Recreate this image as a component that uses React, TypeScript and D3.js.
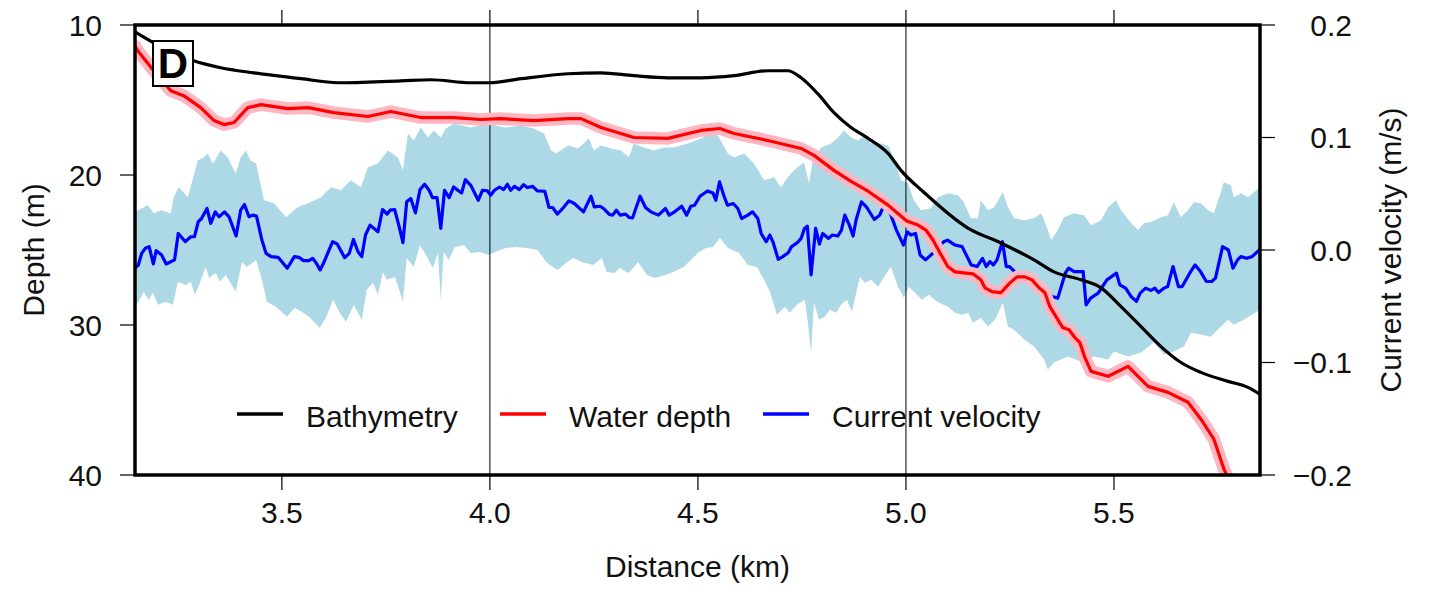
import React from "react";
import * as d3 from "d3";

// ---------- DATA ----------
const bathyDist = [3.147, 3.192, 3.288, 3.353, 3.433, 3.546, 3.635, 3.786, 3.858, 3.954, 4.0, 4.075, 4.188, 4.267, 4.346, 4.428, 4.507, 4.587, 4.668, 4.716, 4.748, 4.788, 4.827, 4.868, 4.909, 4.957, 4.988, 5.043, 5.149, 5.228, 5.308, 5.356, 5.421, 5.469, 5.517, 5.565, 5.613, 5.661, 5.709, 5.774, 5.822, 5.851];
const bathyDepth = [10.46, 11.19, 12.39, 12.85, 13.19, 13.58, 13.85, 13.72, 13.65, 13.85, 13.85, 13.58, 13.25, 13.19, 13.38, 13.52, 13.52, 13.38, 13.05, 13.05, 13.52, 14.58, 15.84, 16.83, 17.56, 18.56, 19.69, 21.15, 23.54, 24.53, 25.66, 26.46, 26.99, 27.52, 28.78, 30.11, 31.44, 32.5, 33.16, 33.76, 34.16, 34.62];

const waterDist = [3.147, 3.154, 3.192, 3.233, 3.264, 3.305, 3.337, 3.361, 3.385, 3.418, 3.45, 3.514, 3.563, 3.625, 3.707, 3.762, 3.834, 3.913, 3.978, 4.026, 4.106, 4.188, 4.219, 4.267, 4.346, 4.428, 4.507, 4.553, 4.587, 4.668, 4.748, 4.779, 4.827, 4.868, 4.909, 4.957, 5.002, 5.029, 5.048, 5.065, 5.082, 5.101, 5.118, 5.139, 5.161, 5.18, 5.19, 5.207, 5.228, 5.25, 5.267, 5.286, 5.303, 5.32, 5.334, 5.346, 5.365, 5.377, 5.392, 5.404, 5.418, 5.43, 5.445, 5.486, 5.534, 5.582, 5.63, 5.678, 5.709, 5.74, 5.764, 5.786];
const waterDepth = [11.4, 11.73, 13.05, 14.38, 14.71, 15.51, 16.37, 16.64, 16.5, 15.51, 15.31, 15.57, 15.51, 15.84, 16.1, 15.77, 16.17, 16.17, 16.3, 16.24, 16.37, 16.24, 16.24, 16.83, 17.5, 17.56, 17.03, 16.9, 17.23, 17.7, 18.23, 18.69, 19.69, 20.42, 21.08, 22.01, 23.07, 23.34, 23.67, 24.33, 25.2, 26.12, 26.46, 26.52, 26.59, 26.99, 27.52, 27.78, 27.85, 27.19, 26.79, 26.79, 26.99, 27.52, 27.85, 28.78, 29.64, 30.17, 30.31, 30.77, 31.17, 32.16, 33.09, 33.42, 32.76, 34.09, 34.49, 35.15, 36.28, 37.6, 39.59, 40.92];

const velDist = [3.147, 3.155, 3.163, 3.172, 3.181, 3.191, 3.198, 3.211, 3.222, 3.242, 3.251, 3.268, 3.281, 3.29, 3.299, 3.307, 3.32, 3.329, 3.34, 3.349, 3.362, 3.373, 3.39, 3.401, 3.41, 3.421, 3.43, 3.439, 3.452, 3.462, 3.474, 3.491, 3.513, 3.53, 3.541, 3.552, 3.565, 3.574, 3.583, 3.592, 3.6, 3.622, 3.633, 3.651, 3.662, 3.672, 3.683, 3.692, 3.701, 3.712, 3.731, 3.742, 3.753, 3.76, 3.771, 3.781, 3.791, 3.8, 3.81, 3.821, 3.832, 3.843, 3.854, 3.862, 3.873, 3.882, 3.891, 3.902, 3.913, 3.926, 3.932, 3.941, 3.954, 3.972, 3.982, 3.994, 4.002, 4.011, 4.023, 4.033, 4.042, 4.05, 4.059, 4.071, 4.081, 4.09, 4.103, 4.114, 4.132, 4.142, 4.151, 4.162, 4.177, 4.19, 4.203, 4.225, 4.243, 4.251, 4.265, 4.273, 4.287, 4.295, 4.304, 4.313, 4.326, 4.335, 4.343, 4.361, 4.374, 4.387, 4.405, 4.422, 4.431, 4.444, 4.461, 4.473, 4.483, 4.492, 4.505, 4.523, 4.536, 4.543, 4.552, 4.562, 4.571, 4.585, 4.596, 4.605, 4.62, 4.631, 4.644, 4.652, 4.664, 4.673, 4.681, 4.693, 4.704, 4.717, 4.725, 4.739, 4.748, 4.756, 4.763, 4.772, 4.783, 4.792, 4.8, 4.814, 4.823, 4.836, 4.845, 4.853, 4.864, 4.873, 4.88, 4.893, 4.906, 4.924, 4.937, 4.942, 4.95, 4.964, 4.977, 4.994, 5.003, 5.012, 5.023, 5.034, 5.047, 5.069, 5.091, 5.1, 5.118, 5.135, 5.157, 5.171, 5.184, 5.193, 5.202, 5.21, 5.219, 5.232, 5.241, 5.249, 5.257, 5.276, 5.305, 5.329, 5.351, 5.365, 5.383, 5.391, 5.404, 5.426, 5.433, 5.444, 5.462, 5.483, 5.506, 5.514, 5.528, 5.541, 5.554, 5.563, 5.576, 5.589, 5.598, 5.607, 5.62, 5.629, 5.642, 5.655, 5.664, 5.682, 5.695, 5.708, 5.722, 5.735, 5.744, 5.761, 5.775, 5.786, 5.797, 5.805, 5.819, 5.832, 5.845, 5.851];
const velValue = [-0.016, -0.0133, -0.003, 0.0015, 0.003, -0.0124, -0.0006, -0.0044, -0.0124, -0.0088, 0.0147, 0.0074, 0.0118, 0.0118, 0.0251, 0.028, 0.0369, 0.0236, 0.0339, 0.0295, 0.0339, 0.0295, 0.0124, 0.0354, 0.0404, 0.0295, 0.031, 0.0301, 0.0088, -0.003, -0.0059, -0.0065, -0.0162, -0.0059, -0.0065, -0.0094, -0.0094, -0.0074, -0.0118, -0.0177, -0.0118, 0.0074, 0.0053, -0.0068, -0.003, 0.0094, -0.0015, -0.0059, 0.0133, 0.0221, 0.0162, 0.036, 0.0319, 0.0354, 0.036, 0.0221, 0.0065, 0.0428, 0.0457, 0.033, 0.0537, 0.0584, 0.0531, 0.0466, 0.0466, 0.0192, 0.0531, 0.0466, 0.056, 0.0522, 0.0507, 0.0625, 0.0575, 0.0442, 0.0531, 0.0525, 0.0487, 0.0531, 0.056, 0.0537, 0.0584, 0.0531, 0.0566, 0.0537, 0.0581, 0.0555, 0.0566, 0.0525, 0.0522, 0.0378, 0.0378, 0.0319, 0.0378, 0.0437, 0.0413, 0.0339, 0.0478, 0.0383, 0.0389, 0.0369, 0.0316, 0.031, 0.0354, 0.031, 0.0319, 0.0289, 0.0286, 0.0478, 0.0378, 0.0339, 0.031, 0.0369, 0.031, 0.0339, 0.0389, 0.031, 0.0389, 0.0398, 0.0478, 0.0525, 0.0507, 0.0442, 0.0605, 0.0487, 0.0398, 0.0413, 0.0369, 0.028, 0.031, 0.0339, 0.028, 0.0147, 0.0074, 0.0133, 0.0065, -0.0083, -0.0059, -0.0024, 0.003, 0.0065, 0.0103, 0.0192, 0.0212, -0.0221, 0.0192, 0.0053, 0.0147, 0.0103, 0.0133, 0.0124, 0.0177, 0.031, 0.0221, 0.0124, 0.0265, 0.0428, 0.0378, 0.0271, 0.031, 0.0354, 0.041, 0.031, 0.0177, 0.0044, 0.0162, 0.0133, 0.0147, -0.0044, -0.0088, -0.0015, 0.0074, 0.0088, 0.0044, 0.003, -0.0133, -0.0147, -0.0074, -0.0147, -0.0103, -0.0133, -0.0088, 0.0074, -0.0147, -0.0147, -0.0177, -0.0248, -0.0274, -0.0354, -0.0413, -0.0428, -0.0206, -0.0162, -0.0192, -0.0192, -0.0487, -0.0428, -0.0383, -0.0265, -0.0206, -0.031, -0.0339, -0.0413, -0.0457, -0.0383, -0.0339, -0.036, -0.0339, -0.0378, -0.0339, -0.0325, -0.0147, -0.0325, -0.0325, -0.0206, -0.0133, -0.0192, -0.028, -0.028, -0.025, 0.003, 0, -0.0162, -0.0088, -0.0059, -0.0074, -0.0059, -0.0015, 0.0006];

const bandUpperDist = [3.147, 3.154, 3.178, 3.192, 3.209, 3.233, 3.24, 3.252, 3.274, 3.298, 3.312, 3.322, 3.334, 3.353, 3.37, 3.389, 3.401, 3.413, 3.425, 3.438, 3.457, 3.481, 3.51, 3.538, 3.563, 3.594, 3.618, 3.642, 3.666, 3.69, 3.707, 3.731, 3.755, 3.779, 3.791, 3.803, 3.817, 3.834, 3.851, 3.865, 3.882, 3.894, 3.913, 3.954, 3.995, 4.034, 4.075, 4.106, 4.13, 4.147, 4.159, 4.188, 4.212, 4.238, 4.25, 4.267, 4.291, 4.315, 4.334, 4.346, 4.37, 4.394, 4.418, 4.442, 4.476, 4.507, 4.531, 4.548, 4.572, 4.587, 4.611, 4.635, 4.659, 4.683, 4.7, 4.716, 4.731, 4.755, 4.767, 4.776, 4.796, 4.82, 4.837, 4.851, 4.868, 4.885, 4.899, 4.916, 4.94, 4.957, 4.971, 4.988, 5.005, 5.019, 5.036, 5.06, 5.077, 5.101, 5.125, 5.139, 5.156, 5.173, 5.18, 5.197, 5.212, 5.233, 5.245, 5.26, 5.284, 5.308, 5.325, 5.341, 5.349, 5.365, 5.38, 5.404, 5.428, 5.445, 5.469, 5.486, 5.505, 5.517, 5.541, 5.558, 5.572, 5.589, 5.613, 5.63, 5.644, 5.661, 5.678, 5.692, 5.709, 5.726, 5.74, 5.757, 5.764, 5.781, 5.788, 5.805, 5.822, 5.851];
const bandUpperVel = [0.0336, 0.0354, 0.0398, 0.0327, 0.0354, 0.0327, 0.0469, 0.0558, 0.0469, 0.0796, 0.0823, 0.0858, 0.077, 0.0885, 0.0823, 0.0681, 0.0823, 0.0885, 0.0796, 0.077, 0.0442, 0.0416, 0.0292, 0.0381, 0.0416, 0.0469, 0.0558, 0.0531, 0.0619, 0.0558, 0.0735, 0.077, 0.0885, 0.0823, 0.0708, 0.1035, 0.0973, 0.1088, 0.1, 0.1062, 0.1, 0.108, 0.1124, 0.1088, 0.1124, 0.1088, 0.1106, 0.108, 0.1035, 0.0885, 0.0858, 0.0929, 0.0903, 0.0991, 0.0885, 0.0929, 0.0903, 0.0885, 0.0823, 0.0947, 0.0912, 0.0885, 0.0912, 0.0912, 0.0947, 0.0991, 0.1035, 0.1018, 0.0858, 0.0823, 0.0858, 0.077, 0.0619, 0.0646, 0.0558, 0.0646, 0.0708, 0.0779, 0.0593, 0.0796, 0.0912, 0.0947, 0.1, 0.1062, 0.1, 0.0973, 0.1018, 0.0947, 0.0947, 0.0929, 0.0823, 0.0619, 0.0593, 0.0442, 0.0354, 0.0372, 0.0469, 0.0504, 0.0487, 0.0425, 0.0283, 0.0283, 0.0442, 0.0354, 0.0381, 0.0513, 0.0381, 0.0283, 0.0265, 0.0283, 0.0327, 0.0177, 0.0088, 0.0177, 0.0292, 0.0327, 0.031, 0.0221, 0.0265, 0.0381, 0.0442, 0.0354, 0.0239, 0.0177, 0.0239, 0.0248, 0.0292, 0.031, 0.0425, 0.0292, 0.0354, 0.0425, 0.0416, 0.0354, 0.0327, 0.0513, 0.0602, 0.0575, 0.0469, 0.0504, 0.0469, 0.0558];

const bandLowerDist = [3.147, 3.154, 3.168, 3.18, 3.19, 3.202, 3.221, 3.238, 3.25, 3.269, 3.281, 3.291, 3.303, 3.317, 3.325, 3.341, 3.351, 3.365, 3.389, 3.404, 3.416, 3.438, 3.452, 3.464, 3.486, 3.512, 3.531, 3.548, 3.565, 3.591, 3.606, 3.623, 3.639, 3.654, 3.673, 3.692, 3.704, 3.719, 3.731, 3.743, 3.752, 3.772, 3.791, 3.8, 3.817, 3.832, 3.849, 3.863, 3.875, 3.882, 3.889, 3.901, 3.916, 3.938, 3.954, 3.976, 3.998, 4.012, 4.038, 4.062, 4.089, 4.115, 4.135, 4.151, 4.163, 4.183, 4.2, 4.221, 4.248, 4.269, 4.281, 4.3, 4.312, 4.334, 4.356, 4.377, 4.397, 4.423, 4.44, 4.466, 4.483, 4.5, 4.519, 4.536, 4.553, 4.572, 4.599, 4.62, 4.642, 4.659, 4.673, 4.69, 4.709, 4.721, 4.738, 4.757, 4.764, 4.772, 4.779, 4.791, 4.805, 4.817, 4.832, 4.844, 4.858, 4.87, 4.889, 4.901, 4.916, 4.933, 4.947, 4.964, 4.981, 4.995, 5.007, 5.022, 5.038, 5.055, 5.075, 5.101, 5.118, 5.135, 5.149, 5.161, 5.18, 5.197, 5.214, 5.233, 5.245, 5.26, 5.284, 5.308, 5.332, 5.341, 5.356, 5.389, 5.421, 5.452, 5.486, 5.5, 5.534, 5.565, 5.596, 5.62, 5.644, 5.668, 5.685, 5.709, 5.733, 5.757, 5.774, 5.788, 5.812, 5.851];
const bandLowerVel = [-0.0487, -0.0469, -0.0372, -0.0442, -0.0381, -0.0487, -0.046, -0.0487, -0.0283, -0.031, -0.0283, -0.0398, -0.0292, -0.015, -0.0248, -0.0204, -0.0283, -0.0221, -0.0372, -0.0106, -0.015, -0.0088, -0.0265, -0.046, -0.0504, -0.0593, -0.0513, -0.0549, -0.0593, -0.069, -0.0602, -0.0442, -0.0558, -0.0637, -0.0487, -0.0619, -0.0354, -0.0292, -0.0398, -0.0195, -0.0265, -0.0239, -0.046, -0.0071, -0.015, 0.0044, -0.0062, -0.0159, -0.0027, -0.0442, -0.0018, -0.0088, 0.0027, 0.0044, -0.0027, -0.0018, -0.0044, -0.0018, 0.0018, 0.0027, 0.0018, 0, -0.0106, -0.015, -0.0177, -0.0115, -0.0071, -0.0106, -0.0133, -0.0071, -0.0195, -0.0204, -0.0159, -0.0204, -0.0106, -0.0221, -0.0248, -0.0221, -0.0195, -0.015, -0.0088, -0.0027, 0.0018, 0.0027, 0.0106, 0.0018, -0.0027, -0.0133, -0.015, -0.0265, -0.0372, -0.0575, -0.0504, -0.0558, -0.0487, -0.0442, -0.0637, -0.0912, -0.0469, -0.0619, -0.0593, -0.0531, -0.0558, -0.0487, -0.0442, -0.0549, -0.0239, -0.0292, -0.0265, -0.0327, -0.0239, -0.015, -0.0327, -0.0425, -0.0327, -0.0381, -0.0442, -0.0398, -0.046, -0.0504, -0.0558, -0.0575, -0.0558, -0.0646, -0.0602, -0.0681, -0.0619, -0.0469, -0.0681, -0.0708, -0.0796, -0.0858, -0.0973, -0.1062, -0.1, -0.0947, -0.0991, -0.0947, -0.0973, -0.0903, -0.0947, -0.0912, -0.0823, -0.0929, -0.0903, -0.0858, -0.0735, -0.0752, -0.077, -0.0681, -0.0619, -0.0664, -0.0619, -0.0531];

const distTicks = [3.5, 4.0, 4.5, 5.0, 5.5];
const gridDist = [4.0, 5.0];
const depthTicks = [10, 20, 30, 40];
const velTicks = [0.2, 0.1, 0.0, -0.1, -0.2];
const legendItems = ["Bathymetry", "Water depth", "Current velocity"];
const legendColors = ["#000000", "#ff0000", "#0000ff"];

// ---------- LAYOUT ----------
const W = 1435;
const H = 592;
const L = 135;
const R = 1260;
const T = 25;
const B = 475;
const FONT = "'Liberation Sans', Arial, Helvetica, sans-serif";

export default function App() {
  const x = d3.scaleLinear().domain([3.147, 5.851]).range([L, R]);
  const yD = d3.scaleLinear().domain([10, 40]).range([T, B]);
  const yV = d3.scaleLinear().domain([-0.2, 0.2]).range([B, T]);

  const line = d3.line<[number, number]>().x((p) => p[0]).y((p) => p[1]);
  const smooth = d3.line<[number, number]>().x((p) => p[0]).y((p) => p[1]).curve(d3.curveMonotoneX);

  const bathyPts: [number, number][] = bathyDist.map((d, i) => [x(d), yD(bathyDepth[i])]);
  const waterPts: [number, number][] = waterDist.map((d, i) => [x(d), yD(waterDepth[i])]);
  const velPts: [number, number][] = velDist.map((d, i) => [x(d), yV(velValue[i])]);
  const upPts: [number, number][] = bandUpperDist.map((d, i) => [x(d), yV(bandUpperVel[i])]);
  const loPts: [number, number][] = bandLowerDist.map((d, i) => [x(d), yV(bandLowerVel[i])]);
  const bandPath = (line([...upPts, ...loPts.slice().reverse()]) || "") + "Z";

  const fmt1 = d3.format(".1f");
  const legendX = [237, 500, 763];
  const legendY = 414;

  return (
    <svg width={W} height={H} style={{ position: "absolute", left: 0, top: 0, background: "#fff" }} fontFamily={FONT}>
      <defs>
        <clipPath id="plotclip">
          <rect x={L} y={T} width={R - L} height={B - T} />
        </clipPath>
      </defs>
      <rect x={0} y={0} width={W} height={H} fill="#fff" />
      <g clipPath="url(#plotclip)">
        <path d={bandPath} fill="#add8e6" stroke="none" />
        {gridDist.map((g) => (
          <line key={g} x1={x(g)} x2={x(g)} y1={T} y2={B} stroke="#000" strokeWidth={1} />
        ))}
        <path d={line(velPts) || ""} fill="none" stroke="#0000ff" strokeWidth={3.2} strokeLinejoin="round" />
        <path d={smooth(bathyPts) || ""} fill="none" stroke="#000" strokeWidth={3.2} strokeLinejoin="round" />
        <path d={line(waterPts) || ""} fill="none" stroke="#ffb6c1" strokeWidth={12.5} strokeLinejoin="round" strokeLinecap="round" />
        <path d={line(waterPts) || ""} fill="none" stroke="#ff0000" strokeWidth={3.2} strokeLinejoin="round" />
      </g>

      {/* frame */}
      <rect x={L} y={T} width={R - L} height={B - T} fill="none" stroke="#000" strokeWidth={3.5} />

      {/* bottom & top ticks */}
      {distTicks.map((t) => (
        <g key={t}>
          <line x1={x(t)} x2={x(t)} y1={B} y2={B + 15} stroke="#000" strokeWidth={1.2} />
          <line x1={x(t)} x2={x(t)} y1={T} y2={T - 15} stroke="#000" strokeWidth={1.2} />
          <text x={x(t)} y={523} fontSize={30} textAnchor="middle" fill="#111">
            {fmt1(t)}
          </text>
        </g>
      ))}
      <text x={(L + R) / 2} y={577} fontSize={30} textAnchor="middle" fill="#111">
        Distance (km)
      </text>

      {/* left axis */}
      {depthTicks.map((t) => (
        <g key={t}>
          <line x1={L} x2={L - 15} y1={yD(t)} y2={yD(t)} stroke="#000" strokeWidth={1.2} />
          <text x={102} y={yD(t) + 10.5} fontSize={30} textAnchor="end" fill="#111">
            {t}
          </text>
        </g>
      ))}
      <text transform={`translate(44,${(T + B) / 2}) rotate(-90)`} fontSize={30} textAnchor="middle" fill="#111">
        Depth (m)
      </text>

      {/* right axis */}
      {velTicks.map((t) => (
        <g key={t}>
          <line x1={R} x2={R + 15} y1={yV(t)} y2={yV(t)} stroke="#000" strokeWidth={1.2} />
          <text x={1352} y={yV(t) + 10.5} fontSize={30} textAnchor="end" fill="#111">
            {fmt1(t)}
          </text>
        </g>
      ))}
      <text transform={`translate(1401,${(T + B) / 2}) rotate(-90)`} fontSize={30} textAnchor="middle" fill="#111">
        Current velocity (m/s)
      </text>

      {/* legend */}
      {legendItems.map((lab, i) => (
        <g key={lab}>
          <line x1={legendX[i]} x2={legendX[i] + 46} y1={legendY} y2={legendY} stroke={legendColors[i]} strokeWidth={3.5} />
          <text x={legendX[i] + 69} y={legendY + 13} fontSize={30} fill="#111">
            {lab}
          </text>
        </g>
      ))}

      {/* panel label */}
      <rect x={153} y={41} width={40} height={45} fill="#fff" stroke="#000" strokeWidth={2} />
      <text x={173} y={78} fontSize={42} fontWeight="bold" textAnchor="middle" fill="#000">
        D
      </text>
    </svg>
  );
}
